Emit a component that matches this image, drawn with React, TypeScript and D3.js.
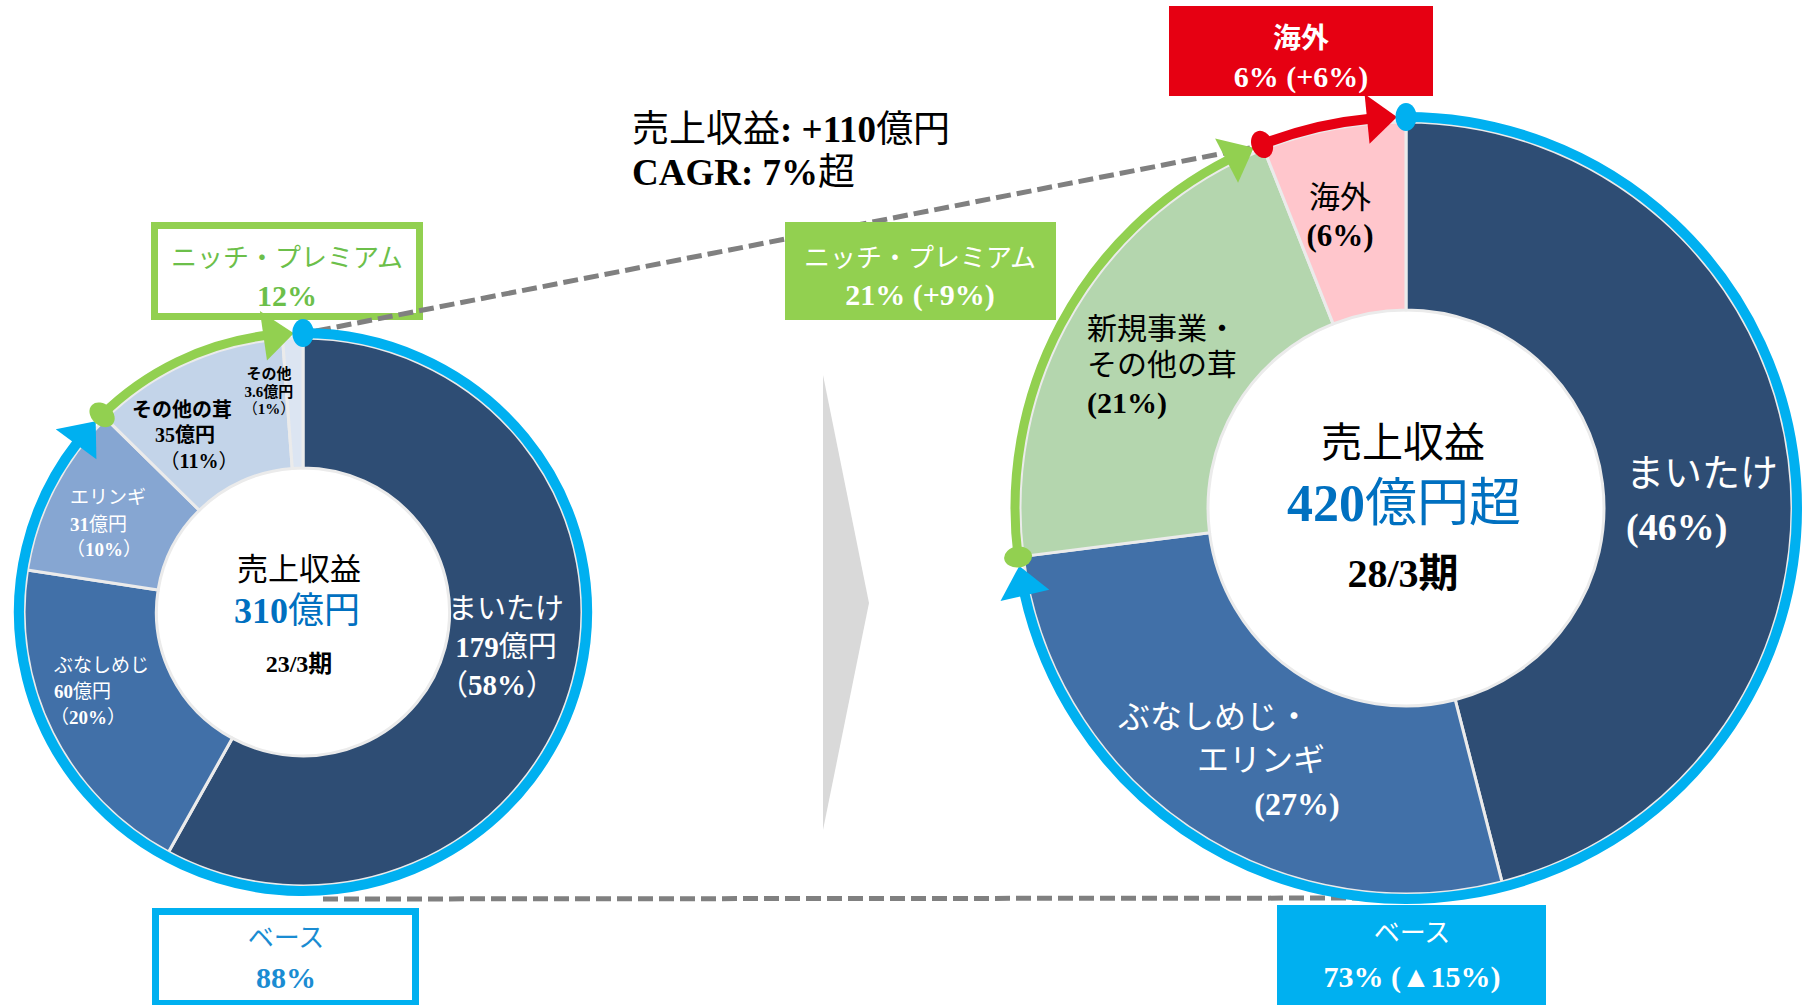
import React from 'react';
import * as d3 from 'd3';

// ---------------- data ----------------
const fy23Categories = ['まいたけ', 'ぶなしめじ', 'エリンギ', 'その他の茸', 'その他'];
const fy23Values = [179, 60, 31, 35, 3.6];
const fy23Shares = ['58%', '20%', '10%', '11%', '1%'];
const fy23Total = '310';
const fy23Period = '23/3期';
const fy23BaseShare = '88%';
const fy23NicheShare = '12%';

const fy28Categories = ['まいたけ', 'ぶなしめじ・エリンギ', '新規事業・その他の茸', '海外'];
const fy28Values = [46, 27, 21, 6];
const fy28Total = '420';
const fy28Period = '28/3期';
const fy28BaseShare = '73% (▲15%)';
const fy28NicheShare = '21% (+9%)';
const fy28OverseasShare = '6% (+6%)';

const growthAmount = '+110';
const cagrValue = '7%';

const groupNames = ['ベース', 'ニッチ・プレミアム', '海外'];
// category index ranges for each group
const fy23Groups = [[0, 3], [3, 5]];
const fy28Groups = [[0, 2], [2, 3], [3, 4]];

// ---------------- styles ----------------
const FONT = "'Liberation Serif', 'Times New Roman', 'Noto Sans CJK JP', serif";
const fy23Colors = ['#2E4D74', '#4170A8', '#86A6D2', '#C3D4E9', '#DCE5F2'];
const fy28Colors = ['#2E4D74', '#4170A8', '#B4D6AE', '#FFC6CC'];
const BLUE = '#00B0F0';
const GREEN = '#92D050';
const RED = '#E60012';
const TEXT_BLUE = '#0070C0';

const L = { cx: 303, cy: 612, r0: 144, r1: 274, ring: 279 };
const R = { cx: 1406, cy: 508, r0: 198, r1: 386, ring: 391 };

type Seg = { t: string; b?: boolean };
type Line = { x: number; y: number; segs: Seg[] };

function pt(cx: number, cy: number, r: number, a: number): [number, number] {
  return [cx + r * Math.sin(a), cy - r * Math.cos(a)];
}

function ArrowArc(props: { c: typeof L; a0: number; a1: number; color: string; width: number }) {
  const { c, a0, a1, color, width } = props;
  const r = c.ring;
  const gap = 9, len = 30, hw = 25;
  const aTip = a1 - gap / r;
  const aBase = aTip - len / r;
  const p = d3.path();
  p.arc(c.cx, c.cy, r, a0 - Math.PI / 2, aBase + 3 / r - Math.PI / 2, false);
  const tip = pt(c.cx, c.cy, r, aTip);
  const b1 = pt(c.cx, c.cy, r - hw, aBase);
  const b2 = pt(c.cx, c.cy, r + hw, aBase);
  return (
    <g>
      <path d={p.toString()} fill="none" stroke={color} strokeWidth={width} />
      <path d={`M${tip[0]},${tip[1]}L${b1[0]},${b1[1]}L${b2[0]},${b2[1]}Z`} fill={color} />
    </g>
  );
}

function Dot(props: { c: typeof L; a: number; color: string }) {
  const [x, y] = pt(props.c.cx, props.c.cy, props.c.ring, props.a);
  return (
    <ellipse rx={10.5} ry={14} fill={props.color}
      transform={`translate(${x},${y}) rotate(${(props.a * 180) / Math.PI})`} />
  );
}

function TextLines(props: { lines: Line[]; size: number; fill: string; anchor?: string; boldAll?: boolean }) {
  const { lines, size, fill, anchor = 'middle', boldAll } = props;
  return (
    <g fontFamily={FONT} fontSize={size} fill={fill} textAnchor={anchor}>
      {lines.map((ln, i) => (
        <text key={i} x={ln.x} y={ln.y}>
          {ln.segs.map((s, j) => (
            <tspan key={j} fontWeight={s.b || boldAll ? 'bold' : 'normal'}>{s.t}</tspan>
          ))}
        </text>
      ))}
    </g>
  );
}

export default function App() {
  const pie = d3.pie<number>().sort(null).value((d) => d);
  const leftArcs = pie(fy23Values);
  const rightArcs = pie(fy28Values);
  const arcL = d3.arc<d3.PieArcDatum<number>>().innerRadius(L.r0).outerRadius(L.r1);
  const arcR = d3.arc<d3.PieArcDatum<number>>().innerRadius(R.r0).outerRadius(R.r1);

  const gAng = (arcs: d3.PieArcDatum<number>[], g: number[]) => [arcs[g[0]].startAngle, arcs[g[1] - 1].endAngle];
  const lBase = gAng(leftArcs, fy23Groups[0]);
  const lNiche = gAng(leftArcs, fy23Groups[1]);
  const rBase = gAng(rightArcs, fy28Groups[0]);
  const rNiche = gAng(rightArcs, fy28Groups[1]);
  const rOver = gAng(rightArcs, fy28Groups[2]);

  const oku = (v: number) => `${v}`;
  const splitDot = (s: string) => {
    const parts = s.split('・');
    return parts.length > 1 ? [parts[0] + '・', parts.slice(1).join('・')] : [s];
  };

  // slice labels FY23
  const leftLabelDefs = [
    { fill: '#fff', size: 29, anchor: 'middle', xs: [506, 506, 497], ys: [619, 657, 695] },
    { fill: '#fff', size: 19, anchor: 'start', xs: [54, 54, 50], ys: [672, 698, 724] },
    { fill: '#fff', size: 19, anchor: 'start', xs: [70, 70, 66], ys: [504, 531, 556] },
    { fill: '#000', size: 20, anchor: 'middle', xs: [182, 185, 199], ys: [417, 442, 468] },
    { fill: '#000', size: 15, anchor: 'middle', xs: [269, 269, 269], ys: [379, 397, 414] },
  ];
  const leftBold = [false, false, false, true, true];
  const leftLabels = fy23Categories.map((c, i) => {
    const d = leftLabelDefs[i];
    const lines: Line[] = [
      { x: d.xs[0], y: d.ys[0], segs: [{ t: c, b: leftBold[i] }] },
      { x: d.xs[1], y: d.ys[1], segs: [{ t: oku(fy23Values[i]), b: true }, { t: '億円', b: leftBold[i] }] },
      { x: d.xs[2], y: d.ys[2], segs: [{ t: '（' }, { t: fy23Shares[i], b: true }, { t: '）' }] },
    ];
    return <TextLines key={i} lines={lines} size={d.size} fill={d.fill} anchor={d.anchor} />;
  });

  const rightLabelDefs = [
    { fill: '#fff', size: 38, anchor: 'start', xs: [1626, 1626, 1626], ys: [486, 540] },
    { fill: '#fff', size: 32, anchor: 'middle', xs: [1214, 1261, 1297], ys: [728, 771, 815] },
    { fill: '#000', size: 30, anchor: 'start', xs: [1087, 1087, 1087], ys: [339, 375, 413] },
    { fill: '#000', size: 31, anchor: 'middle', xs: [1340, 1340], ys: [208, 246] },
  ];
  const rightLabels = fy28Categories.map((c, i) => {
    const d = rightLabelDefs[i];
    const nameLines = splitDot(c);
    const lines: Line[] = nameLines.map((n, k) => ({ x: d.xs[k], y: d.ys[k], segs: [{ t: n }] }));
    const k = nameLines.length;
    lines.push({ x: d.xs[k], y: d.ys[k], segs: [{ t: `(${fy28Values[i]}%)`, b: true }] });
    return <TextLines key={i} lines={lines} size={d.size} fill={d.fill} anchor={d.anchor} />;
  });

  const leftStretch = `translate(${L.cx},${L.cy}) scale(1.018,1) translate(${-L.cx},${-L.cy})`;

  return (
    <svg width={1804} height={1005} style={{ position: 'absolute', left: 0, top: 0, background: '#fff' }}>
      {/* bottom dashed connector */}
      <line x1={323} y1={899} x2={R.cx} y2={898} stroke="#808080" strokeWidth={5} strokeDasharray="15 6" />

      {/* middle arrow */}
      <path d="M823,375L869,603L823,830Z" fill="#D9D9D9" />

      {/* left niche box (outline) */}
      <rect x={154.5} y={225.5} width={265} height={91} fill="#fff" stroke={GREEN} strokeWidth={7} />

      {/* top dashed connector */}
      <line x1={316} y1={331} x2={1250} y2={148} stroke="#808080" strokeWidth={5} strokeDasharray="15 6" />

      {/* right niche box (filled) */}
      <rect x={785} y={222} width={271} height={98} fill={GREEN} />

      {/* left donut */}
      <g transform={leftStretch}>
        <g transform={`translate(${L.cx},${L.cy})`}>
          {leftArcs.map((a, i) => (
            <path key={i} d={arcL(a) || ''} fill={fy23Colors[i]} stroke="#EBEBEB" strokeWidth={3} />
          ))}
        </g>
        <ArrowArc c={L} a0={lBase[0]} a1={lBase[1]} color={BLUE} width={10} />
        <ArrowArc c={L} a0={lNiche[0]} a1={lNiche[1]} color={GREEN} width={9} />
        <Dot c={L} a={lNiche[0]} color={GREEN} />
        <Dot c={L} a={lBase[0]} color={BLUE} />
      </g>

      {/* right donut */}
      <g transform={`translate(${R.cx},${R.cy})`}>
        {rightArcs.map((a, i) => (
          <path key={i} d={arcR(a) || ''} fill={fy28Colors[i]} stroke="#EBEBEB" strokeWidth={3} />
        ))}
      </g>
      <ArrowArc c={R} a0={rBase[0]} a1={rBase[1]} color={BLUE} width={10} />
      <ArrowArc c={R} a0={rNiche[0]} a1={rNiche[1]} color={GREEN} width={9} />
      <ArrowArc c={R} a0={rOver[0]} a1={rOver[1]} color={RED} width={10} />
      <Dot c={R} a={rNiche[0]} color={GREEN} />
      <Dot c={R} a={rOver[0]} color={RED} />
      <Dot c={R} a={rBase[0]} color={BLUE} />

      {/* other boxes */}
      <rect x={155.5} y={911.5} width={260} height={92} fill="#fff" stroke={BLUE} strokeWidth={7} />
      <rect x={1169} y={6} width={264} height={90} fill={RED} />
      <rect x={1277} y={905} width={269} height={100} fill={BLUE} />

      {/* slice labels */}
      {leftLabels}
      {rightLabels}

      {/* centre labels */}
      <TextLines size={31} fill="#000" lines={[{ x: L.cx - 4, y: 580, segs: [{ t: '売上収益' }] }]} />
      <TextLines size={36} fill={TEXT_BLUE} lines={[{ x: L.cx - 6, y: 623, segs: [{ t: fy23Total, b: true }, { t: '億円' }] }]} />
      <TextLines size={24} fill="#000" boldAll lines={[{ x: L.cx - 4, y: 672, segs: [{ t: fy23Period }] }]} />

      <TextLines size={41} fill="#000" lines={[{ x: R.cx - 3, y: 457, segs: [{ t: '売上収益' }] }]} />
      <TextLines size={52} fill={TEXT_BLUE} lines={[{ x: R.cx - 2, y: 521, segs: [{ t: fy28Total, b: true }, { t: '億円超' }] }]} />
      <TextLines size={40} fill="#000" boldAll lines={[{ x: R.cx - 3, y: 587, segs: [{ t: fy28Period }] }]} />

      {/* box texts */}
      <TextLines size={26} fill="#6CBF4A" lines={[{ x: 287, y: 267, segs: [{ t: groupNames[1] }] }]} />
      <TextLines size={30} fill="#6CBF4A" boldAll lines={[{ x: 287, y: 306, segs: [{ t: fy23NicheShare }] }]} />
      <TextLines size={26} fill="#1A8CD2" lines={[{ x: 286, y: 947, segs: [{ t: groupNames[0] }] }]} />
      <TextLines size={30} fill="#1A8CD2" boldAll lines={[{ x: 286, y: 988, segs: [{ t: fy23BaseShare }] }]} />

      <TextLines size={26} fill="#fff" lines={[{ x: 920, y: 267, segs: [{ t: groupNames[1] }] }]} />
      <TextLines size={30} fill="#fff" boldAll lines={[{ x: 920, y: 305, segs: [{ t: fy28NicheShare }] }]} />
      <TextLines size={28} fill="#fff" boldAll lines={[{ x: 1301, y: 48, segs: [{ t: groupNames[2] }] }]} />
      <TextLines size={30} fill="#fff" boldAll lines={[{ x: 1301, y: 87, segs: [{ t: fy28OverseasShare }] }]} />
      <TextLines size={26} fill="#fff" lines={[{ x: 1412, y: 942, segs: [{ t: groupNames[0] }] }]} />
      <TextLines size={30} fill="#fff" boldAll lines={[{ x: 1412, y: 987, segs: [{ t: fy28BaseShare }] }]} />

      {/* growth annotation */}
      <TextLines size={37} fill="#000" anchor="start" lines={[
        { x: 632, y: 142, segs: [{ t: '売上収益' }, { t: ': ' + growthAmount, b: true }, { t: '億円' }] },
        { x: 632, y: 185, segs: [{ t: 'CAGR: ' + cagrValue, b: true }, { t: '超' }] },
      ]} />
    </svg>
  );
}
